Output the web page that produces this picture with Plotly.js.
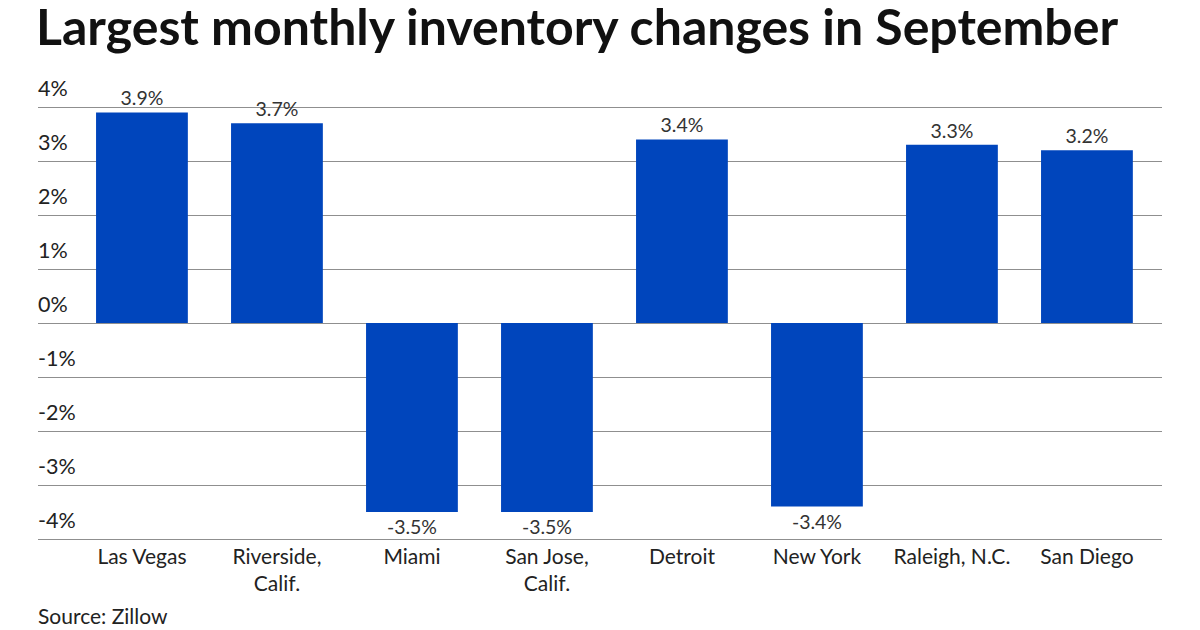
<!DOCTYPE html>
<html>
<head>
<meta charset="utf-8">
<script src="https://cdn.plot.ly/plotly-3.0.1.min.js"></script>
<style>html,body{margin:0;padding:0;background:#fff;}#chart{width:1200px;height:630px;}</style>
</head>
<body>
<div id="chart"></div>
<script>
const categories = ["Las Vegas", "Riverside,<br>Calif.", "Miami", "San Jose,<br>Calif.", "Detroit", "New York", "Raleigh, N.C.", "San Diego"];
const values = [3.9, 3.7, -3.5, -3.5, 3.4, -3.4, 3.3, 3.2];
const yTicks = [-4, -3, -2, -1, 0, 1, 2, 3, 4];
const yTickLabels = ["-4%", "-3%", "-2%", "-1%", "0%", "1%", "2%", "3%", "4%"];

const trace = {
  type: 'bar',
  x: categories,
  y: values,
  width: 0.68,
  marker: {color: '#0045bc'},
  text: values.map(v => v.toFixed(1) + '%'),
  textposition: 'outside',
  cliponaxis: false,
  textfont: {family: 'Lato', size: 19.5, color: '#333'},
  hoverinfo: 'skip'
};

const tickAnnotations = yTicks.map((t, i) => ({
  text: yTickLabels[i],
  xref: 'paper', yref: 'y',
  x: 0, xanchor: 'left', xshift: -2,
  y: t, yanchor: 'middle', yshift: 19,
  showarrow: false,
  font: {family: 'Lato', size: 21.5, color: '#222'}
}));

const layout = {
  width: 1200, height: 630,
  margin: {l: 38, r: 38, t: 104, b: 88},
  paper_bgcolor: '#fff', plot_bgcolor: '#fff',
  font: {family: 'Lato', color: '#222'},
  showlegend: false,
  title: {
    text: '<b>Largest monthly inventory changes in September</b>',
    font: {family: 'Lato', size: 50, color: '#111'},
    x: 36/1200, xanchor: 'left', xref: 'container',
    y: 1 - 27/630, yanchor: 'middle', yref: 'container'
  },
  xaxis: {
    type: 'category',
    range: [-0.77, 7.556],
    showgrid: false, zeroline: false, showline: false,
    ticks: '', tickfont: {family: 'Lato', size: 21, color: '#222'},
    fixedrange: true
  },
  yaxis: {
    range: [-4.0556, 4.0556],
    tickvals: yTicks,
    showticklabels: false,
    showgrid: true, gridcolor: '#8f8f8f', gridwidth: 1,
    zeroline: true, zerolinecolor: '#8f8f8f', zerolinewidth: 1,
    showline: false, ticks: '',
    fixedrange: true
  },
  annotations: tickAnnotations.concat([{
    text: 'Source: Zillow',
    xref: 'paper', yref: 'paper',
    x: 0, xanchor: 'left', xshift: -2,
    y: -(615 - 542) / 438, yanchor: 'middle',
    showarrow: false,
    font: {family: 'Lato', size: 21, color: '#222'}
  }])
};

Plotly.newPlot('chart', [trace], layout, {displayModeBar: false, staticPlot: true});
</script>
</body>
</html>
